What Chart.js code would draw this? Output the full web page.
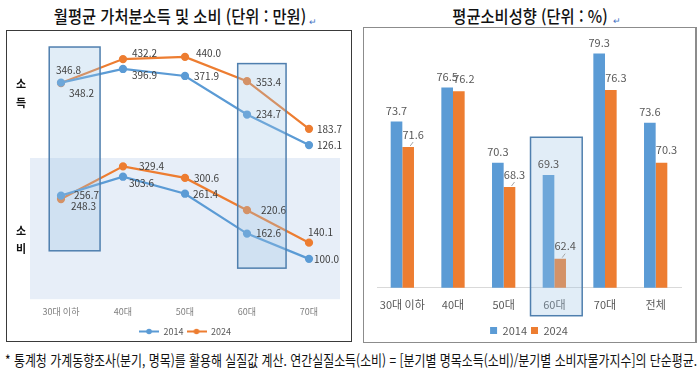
<!DOCTYPE html>
<html lang="ko">
<head>
<meta charset="utf-8">
<script src="https://cdn.jsdelivr.net/npm/chart.js@4.4.1/dist/chart.umd.min.js"></script>
<style>
    body { margin: 0; width: 700px; height: 376px; position: relative; overflow: hidden; background: #fff; font-family: "Noto Sans CJK KR", sans-serif; color: #111; }
    .title { position: absolute; top: 4px; height: 24px; line-height: 24px; font-size: 17px; font-weight: 500; text-align: center; white-space: nowrap; transform: scaleX(0.9); transform-origin: center; }
    .mark { position: absolute; font-size: 9px; color: #4472c4; }
    .box { position: absolute; box-sizing: border-box; }
    .side { position: absolute; font-size: 11px; font-weight: 700; line-height: 18px; width: 14px; text-align: center; }
    .note { position: absolute; left: 5px; top: 349px; line-height: 22px; font-size: 14.5px; white-space: nowrap; transform: scaleX(0.823); transform-origin: left center; }
    canvas { position: absolute; }
</style>
</head>
<body>
<div class="title" style="left:0; width:360px;">월평균 가처분소득 및 소비 (단위 : 만원)</div>
<div class="mark" style="left:309px; top:15px;">↵</div>
<div class="title" style="left:430px; width:200px;">평균소비성향 (단위 : %)</div>
<div class="mark" style="left:613px; top:14px;">↵</div>

<div class="box" style="left:6px; top:30px; width:346px; height:312px; border:1px solid #3a3a3a;"></div>
<div class="box" style="left:363px; top:27px; width:334px; height:316px; border:1px solid #8c8c8c; border-right:2px solid #8c8c8c;"></div>

<canvas id="lineChart" style="left:7px; top:31px;" width="344" height="315"></canvas>
<canvas id="barChart" style="left:364px; top:28px;" width="331" height="318"></canvas>

<div class="side" style="left:14px; top:74px;">소</div>
<div class="side" style="left:14px; top:93px;">득</div>
<div class="side" style="left:14px; top:221px;">소</div>
<div class="side" style="left:14px; top:239px;">비</div>

<div class="note">* 통계청 가계동향조사(분기, 명목)를 활용해 실질값 계산. 연간실질소득(소비) = [분기별 명목소득(소비)/분기별 소비자물가지수]의 단순평균.</div>

<script>
// 왼쪽: 월평균 가처분소득 / 소비 (만원)
const ageGroups = ['30대 이하', '40대', '50대', '60대', '70대'];
const income2014 = [348.2, 396.9, 371.9, 234.7, 126.1];
const income2024 = [346.8, 432.2, 440.0, 353.4, 183.7];
const spend2014 = [256.7, 303.6, 261.4, 162.6, 100.0];
const spend2024 = [248.3, 329.4, 300.6, 220.6, 140.1];

// 오른쪽: 평균소비성향 (%)
const ratioGroups = ['30대 이하', '40대', '50대', '60대', '70대', '전체'];
const ratio2014 = [73.7, 76.5, 70.3, 69.3, 79.3, 73.6];
const ratio2024 = [71.6, 76.2, 68.3, 62.4, 76.3, 70.3];

const seriesNames = ['2014', '2024'];
const BLUE = '#5b9bd5';
const ORANGE = '#ed7d31';
const FONT = '"Noto Sans CJK KR", sans-serif';

// 범례용 선+점 표식
function lineMarker(color) {
    const c = document.createElement('canvas');
    c.width = 20;
    c.height = 7;
    const g = c.getContext('2d');
    g.strokeStyle = color;
    g.lineWidth = 2;
    g.beginPath();
    g.moveTo(0, 3.5);
    g.lineTo(20, 3.5);
    g.stroke();
    g.fillStyle = color;
    g.beginPath();
    g.arc(10, 3.5, 2.8, 0, Math.PI * 2);
    g.fill();
    return c;
}

// 소비 영역 음영 + 강조 상자
const zonePlugin = {
    id: 'zones',
    beforeDatasetsDraw(chart, args, opts) {
        if (!opts.shadeScale) return;
        const ctx = chart.ctx;
        const area = chart.chartArea;
        const s = chart.scales[opts.shadeScale];
        ctx.save();
        ctx.fillStyle = opts.shadeColor;
        ctx.fillRect(area.left, s.top, area.right - area.left, s.bottom - s.top);
        ctx.restore();
    },
    afterDatasetsDraw(chart, args, opts) {
        const ctx = chart.ctx;
        const x = chart.scales.x;
        const step = x.getPixelForValue(1) - x.getPixelForValue(0);
        ctx.save();
        opts.boxes.forEach(b => {
            const left = x.getPixelForValue(b.index) + b.from * step;
            const right = x.getPixelForValue(b.index) + b.to * step;
            const top = chart.scales[b.topScale].getPixelForValue(b.top);
            const bottom = chart.scales[b.bottomScale].getPixelForValue(b.bottom);
            ctx.fillStyle = 'rgba(155, 194, 230, 0.3)';
            ctx.fillRect(left, top, right - left, bottom - top);
            ctx.strokeStyle = '#4f7fae';
            ctx.lineWidth = 1.5;
            ctx.strokeRect(left, top, right - left, bottom - top);
        });
        ctx.restore();
    }
};

const pointLabelPlugin = {
    id: 'pointLabels',
    afterDraw(chart, args, opts) {
        const ctx = chart.ctx;
        ctx.save();
        ctx.font = '10px ' + FONT;
        ctx.fillStyle = '#404040';
        ctx.textAlign = 'left';
        ctx.textBaseline = 'middle';
        chart.data.datasets.forEach((ds, i) => {
            chart.getDatasetMeta(i).data.forEach((pt, j) => {
                const off = opts.offsets[i][j];
                ctx.fillText(ds.data[j].toFixed(1), pt.x + off[0], pt.y + off[1]);
            });
        });
        ctx.restore();
    }
};

const barLabelPlugin = {
    id: 'barLabels',
    afterDraw(chart, args, opts) {
        const ctx = chart.ctx;
        ctx.save();
        ctx.font = '11px ' + FONT;
        ctx.fillStyle = '#595959';
        ctx.textAlign = 'center';
        ctx.textBaseline = 'middle';
        chart.data.datasets.forEach((ds, i) => {
            chart.getDatasetMeta(i).data.forEach((bar, j) => {
                const dx = i === 0 ? 0 : 5;
                const dy = i === 0 ? -11 : -12.5;
                ctx.fillText(ds.data[j].toFixed(1), bar.x + dx, bar.y + dy);
                if (i === 1 && opts.leaders.includes(j)) {
                    ctx.strokeStyle = '#a6a6a6';
                    ctx.lineWidth = 1;
                    ctx.beginPath();
                    ctx.moveTo(bar.x + 2, bar.y - 1);
                    ctx.lineTo(bar.x + 5, bar.y - 5);
                    ctx.stroke();
                }
            });
        });
        ctx.restore();
    }
};

function lineSet(label, data, color, axis) {
    return {
        label: label,
        data: data,
        yAxisID: axis,
        borderColor: color,
        backgroundColor: color,
        borderWidth: 2.25,
        pointRadius: 3,
        pointHoverRadius: 3,
        tension: 0,
    };
}

const hiddenAxis = {
    position: 'left',
    stack: 'age',
    grid: { display: false, drawTicks: false },
    border: { display: false },
    ticks: { display: false },
};

new Chart(document.getElementById('lineChart'), {
    type: 'line',
    data: {
        labels: ageGroups,
        datasets: [
            lineSet(seriesNames[0], income2014, BLUE, 'yIncome'),
            lineSet(seriesNames[1], income2024, ORANGE, 'yIncome'),
            lineSet(seriesNames[0], spend2014, BLUE, 'ySpend'),
            lineSet(seriesNames[1], spend2024, ORANGE, 'ySpend'),
        ],
    },
    options: {
        responsive: false,
        animation: false,
        layout: { padding: { left: 23, right: 11, top: 9, bottom: 0 } },
        plugins: {
            legend: {
                position: 'bottom',
                labels: {
                    filter: (item) => item.datasetIndex < 2,
                    generateLabels(chart) {
                        const items = Chart.defaults.plugins.legend.labels.generateLabels(chart);
                        items.forEach(item => {
                            item.pointStyle = lineMarker(item.strokeStyle);
                        });
                        return items;
                    },
                    usePointStyle: true,
                    pointStyleWidth: 20,
                    boxHeight: 7,
                    padding: 3,
                    color: '#595959',
                    font: { size: 9, family: FONT },
                },
            },
            tooltip: { enabled: false },
            zones: {
                shadeScale: 'ySpend',
                shadeColor: '#e7eef8',
                boxes: [
                    { index: 0, from: -0.19, to: 0.63, topScale: 'yIncome', top: 475, bottomScale: 'ySpend', bottom: 120 },
                    { index: 3, from: -0.15, to: 0.63, topScale: 'yIncome', top: 416, bottomScale: 'ySpend', bottom: 77 },
                ],
            },
            pointLabels: {
                offsets: [
                    [[8, 11], [9, 6], [9, 0], [9, 0], [8, 0]],
                    [[-5, -13], [9, -6], [11, -4], [9, 1], [8, 0]],
                    [[13, 0], [6, 6], [8, 0], [9, 0], [5, 0]],
                    [[10, 7], [16, 0], [9, 0], [14, 0], [-1, -10]],
                ],
            },
        },
        scales: {
            x: {
                offset: true,
                grid: { display: false, drawTicks: false },
                border: { display: false },
                ticks: { padding: 7, color: '#7f7f7f', font: { size: 9, family: FONT } },
            },
            // 스택은 아래쪽부터 쌓이므로 소비 축을 먼저 둔다
            ySpend: Object.assign({}, hiddenAxis, { stackWeight: 140, min: 0, max: 350 }),
            yIncome: Object.assign({}, hiddenAxis, { stackWeight: 117, min: 80, max: 500 }),
        },
    },
    plugins: [zonePlugin, pointLabelPlugin],
});

new Chart(document.getElementById('barChart'), {
    type: 'bar',
    data: {
        labels: ratioGroups,
        datasets: [
            { label: seriesNames[0], data: ratio2014, backgroundColor: BLUE },
            { label: seriesNames[1], data: ratio2024, backgroundColor: ORANGE },
        ],
    },
    options: {
        responsive: false,
        animation: false,
        categoryPercentage: 0.46,
        barPercentage: 1,
        layout: { padding: { left: 13, right: 14, top: 17, bottom: 0 } },
        plugins: {
            legend: {
                position: 'bottom',
                labels: {
                    boxWidth: 7,
                    boxHeight: 7,
                    padding: 4,
                    color: '#595959',
                    font: { size: 11, family: FONT },
                },
            },
            tooltip: { enabled: false },
            zones: {
                boxes: [
                    { index: 3, from: -0.47, to: 0.55, topScale: 'y', top: 72.4, bottomScale: 'y', bottom: 57.7 },
                ],
            },
            barLabels: { leaders: [0, 2, 3] },
        },
        scales: {
            x: {
                grid: { display: false, drawTicks: false },
                border: { color: '#d9d9d9' },
                ticks: { padding: 10, maxRotation: 0, minRotation: 0, autoSkip: false, color: '#595959', font: { size: 11, family: FONT } },
            },
            y: {
                display: false,
                min: 60,
                max: 80,
            },
        },
    },
    plugins: [zonePlugin, barLabelPlugin],
});
</script>
</body>
</html>
